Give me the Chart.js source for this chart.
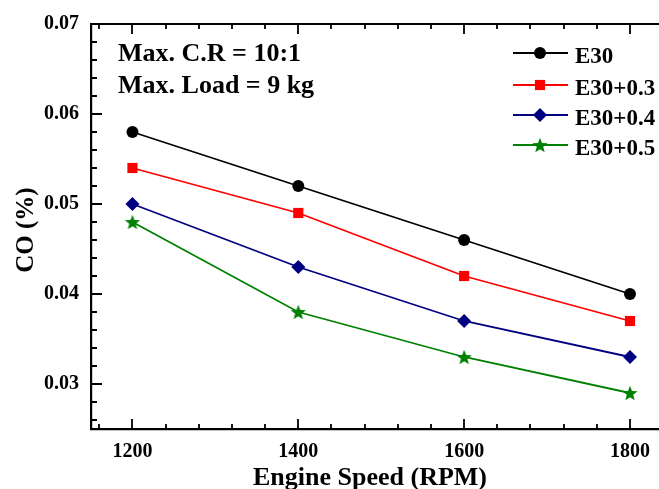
<!DOCTYPE html>
<html>
<head>
<meta charset="utf-8">
<script src="https://cdn.jsdelivr.net/npm/chart.js@4.4.0/dist/chart.umd.min.js"></script>
<style>
  html, body { margin: 0; padding: 0; background: #fff; }
  canvas { display: block; }
</style>
</head>
<body>
<canvas id="coChart" width="659" height="489"></canvas>
<script>
// Datos
const speeds = [1200, 1400, 1600, 1800];
const coE30 = [0.058, 0.052, 0.046, 0.040];
const coE30p3 = [0.054, 0.049, 0.042, 0.037];
const coE30p4 = [0.050, 0.043, 0.037, 0.033];
const coE30p5 = [0.048, 0.038, 0.033, 0.029];
const seriesNames = ['E30', 'E30+0.3', 'E30+0.4', 'E30+0.5'];
const xTicks = [1200, 1400, 1600, 1800];
const yTicks = [0.03, 0.04, 0.05, 0.06, 0.07];
const noteLines = ['Max. C.R = 10:1', 'Max. Load = 9 kg'];

const FONT = "'Liberation Serif', 'Times New Roman', serif";
const colors = ['#000000', '#ff0000', '#000080', '#008000'];

// estrella rellena (Chart.js solo trae la estrella de trazos)
function makeStar(size, color) {
    const c = document.createElement('canvas');
    c.width = size; c.height = size;
    const g = c.getContext('2d');
    const R = size / 2, r = R * 0.42, cx = size / 2, cy = size / 2 + 0.8;
    g.beginPath();
    for (let i = 0; i < 10; i++) {
        const ang = -Math.PI / 2 + i * Math.PI / 5;
        const rad = i % 2 ? r : R;
        g.lineTo(cx + rad * Math.cos(ang), cy + rad * Math.sin(ang));
    }
    g.closePath();
    g.fillStyle = color;
    g.fill();
    return c;
}

const markers = [
    { pointStyle: 'circle', radius: 6 },
    { pointStyle: 'rect', radius: 7.2 },
    { pointStyle: 'rectRot', radius: 7 },
    { pointStyle: makeStar(16, colors[3]), radius: 8 }
];

const values = [coE30, coE30p3, coE30p4, coE30p5];
const datasets = values.map((vals, i) => ({
    label: seriesNames[i],
    data: speeds.map((s, k) => ({ x: s, y: vals[k] })),
    borderColor: colors[i],
    backgroundColor: colors[i],
    borderWidth: 1.8,
    pointStyle: markers[i].pointStyle,
    pointRadius: markers[i].radius,
    pointBorderWidth: 0,
    tension: 0
}));

// marco superior, ticks hacia dentro, leyenda y textos
const framePlugin = {
    id: 'frame',
    afterDraw(chart) {
        const { ctx, chartArea: a, scales: { x, y } } = chart;
        ctx.save();
        ctx.strokeStyle = '#000';
        ctx.lineWidth = 2.2;
        ctx.beginPath();
        ctx.moveTo(a.left - 1, a.top);
        ctx.lineTo(a.right, a.top);
        ctx.stroke();

        ctx.lineWidth = 1.8;
        ctx.beginPath();
        for (let v = 1160; v <= x.max; v += 40) {
            const px = Math.round(x.getPixelForValue(v));
            const len = xTicks.includes(v) ? 10 : 5;
            ctx.moveTo(px, a.bottom);
            ctx.lineTo(px, a.bottom - len);
            ctx.moveTo(px, a.top);
            ctx.lineTo(px, a.top + len);
        }
        for (let k = 13; k <= 35; k++) {
            const py = Math.round(y.getPixelForValue(k * 0.002));
            const len = k % 5 === 0 ? 11 : 6;
            ctx.moveTo(a.left, py);
            ctx.lineTo(a.left + len, py);
        }
        ctx.stroke();

        // leyenda
        ctx.font = 'bold 23px ' + FONT;
        ctx.textAlign = 'left';
        ctx.textBaseline = 'alphabetic';
        const rows = [53, 85, 115, 145];
        datasets.forEach((ds, i) => {
            ctx.strokeStyle = colors[i];
            ctx.lineWidth = 1.8;
            ctx.beginPath();
            ctx.moveTo(513, rows[i]);
            ctx.lineTo(568, rows[i]);
            ctx.stroke();
            ctx.fillStyle = colors[i];
            Chart.helpers.drawPoint(ctx, {
                pointStyle: markers[i].pointStyle,
                radius: markers[i].radius,
                rotation: 0,
                borderWidth: 0
            }, 540, rows[i]);
            ctx.fillStyle = '#000';
            ctx.fillText(ds.label, 575, rows[i] + 10);
        });

        // anotaciones
        ctx.font = 'bold 26px ' + FONT;
        ctx.fillText(noteLines[0], 118, 61);
        ctx.fillText(noteLines[1], 118, 93);

        // títulos de ejes
        ctx.font = 'bold 26px ' + FONT;
        ctx.textAlign = 'center';
        ctx.fillText('Engine Speed (RPM)', 370, 485);
        ctx.translate(33, 230);
        ctx.rotate(-Math.PI / 2);
        ctx.font = 'bold 25px ' + FONT;
        ctx.fillText('CO (%)', 0, 0);
        ctx.restore();
    }
};

new Chart(document.getElementById('coChart'), {
    type: 'line',
    data: { datasets: datasets },
    options: {
        responsive: false,
        animation: false,
        devicePixelRatio: 1,
        layout: { autoPadding: false, padding: { top: 22, right: 0, left: 0, bottom: 0 } },
        plugins: {
            legend: { display: false },
            tooltip: { enabled: false }
        },
        scales: {
            x: {
                type: 'linear',
                min: 1150,
                max: 1835,
                afterBuildTicks: s => { s.ticks = xTicks.map(v => ({ value: v })); },
                afterFit: s => { s.height = 60; s.paddingLeft = 0; s.paddingRight = 0; },
                grid: { display: false, drawTicks: false },
                border: { display: true, color: '#000', width: 2.2 },
                ticks: {
                    padding: 11,
                    color: '#000',
                    maxRotation: 0,
                    autoSkip: false,
                    font: { family: FONT, size: 20, weight: 'bold' },
                    callback: v => String(v)
                }
            },
            y: {
                type: 'linear',
                min: 0.025,
                max: 0.07,
                afterBuildTicks: s => { s.ticks = yTicks.map(v => ({ value: v })); },
                afterFit: s => { s.width = 91; },
                grid: { display: false, drawTicks: false },
                border: { display: true, color: '#000', width: 2.2 },
                ticks: {
                    padding: 12,
                    color: '#000',
                    font: { family: FONT, size: 20, weight: 'bold' },
                    callback: v => v.toFixed(2)
                }
            }
        }
    },
    plugins: [framePlugin]
});
</script>
</body>
</html>
